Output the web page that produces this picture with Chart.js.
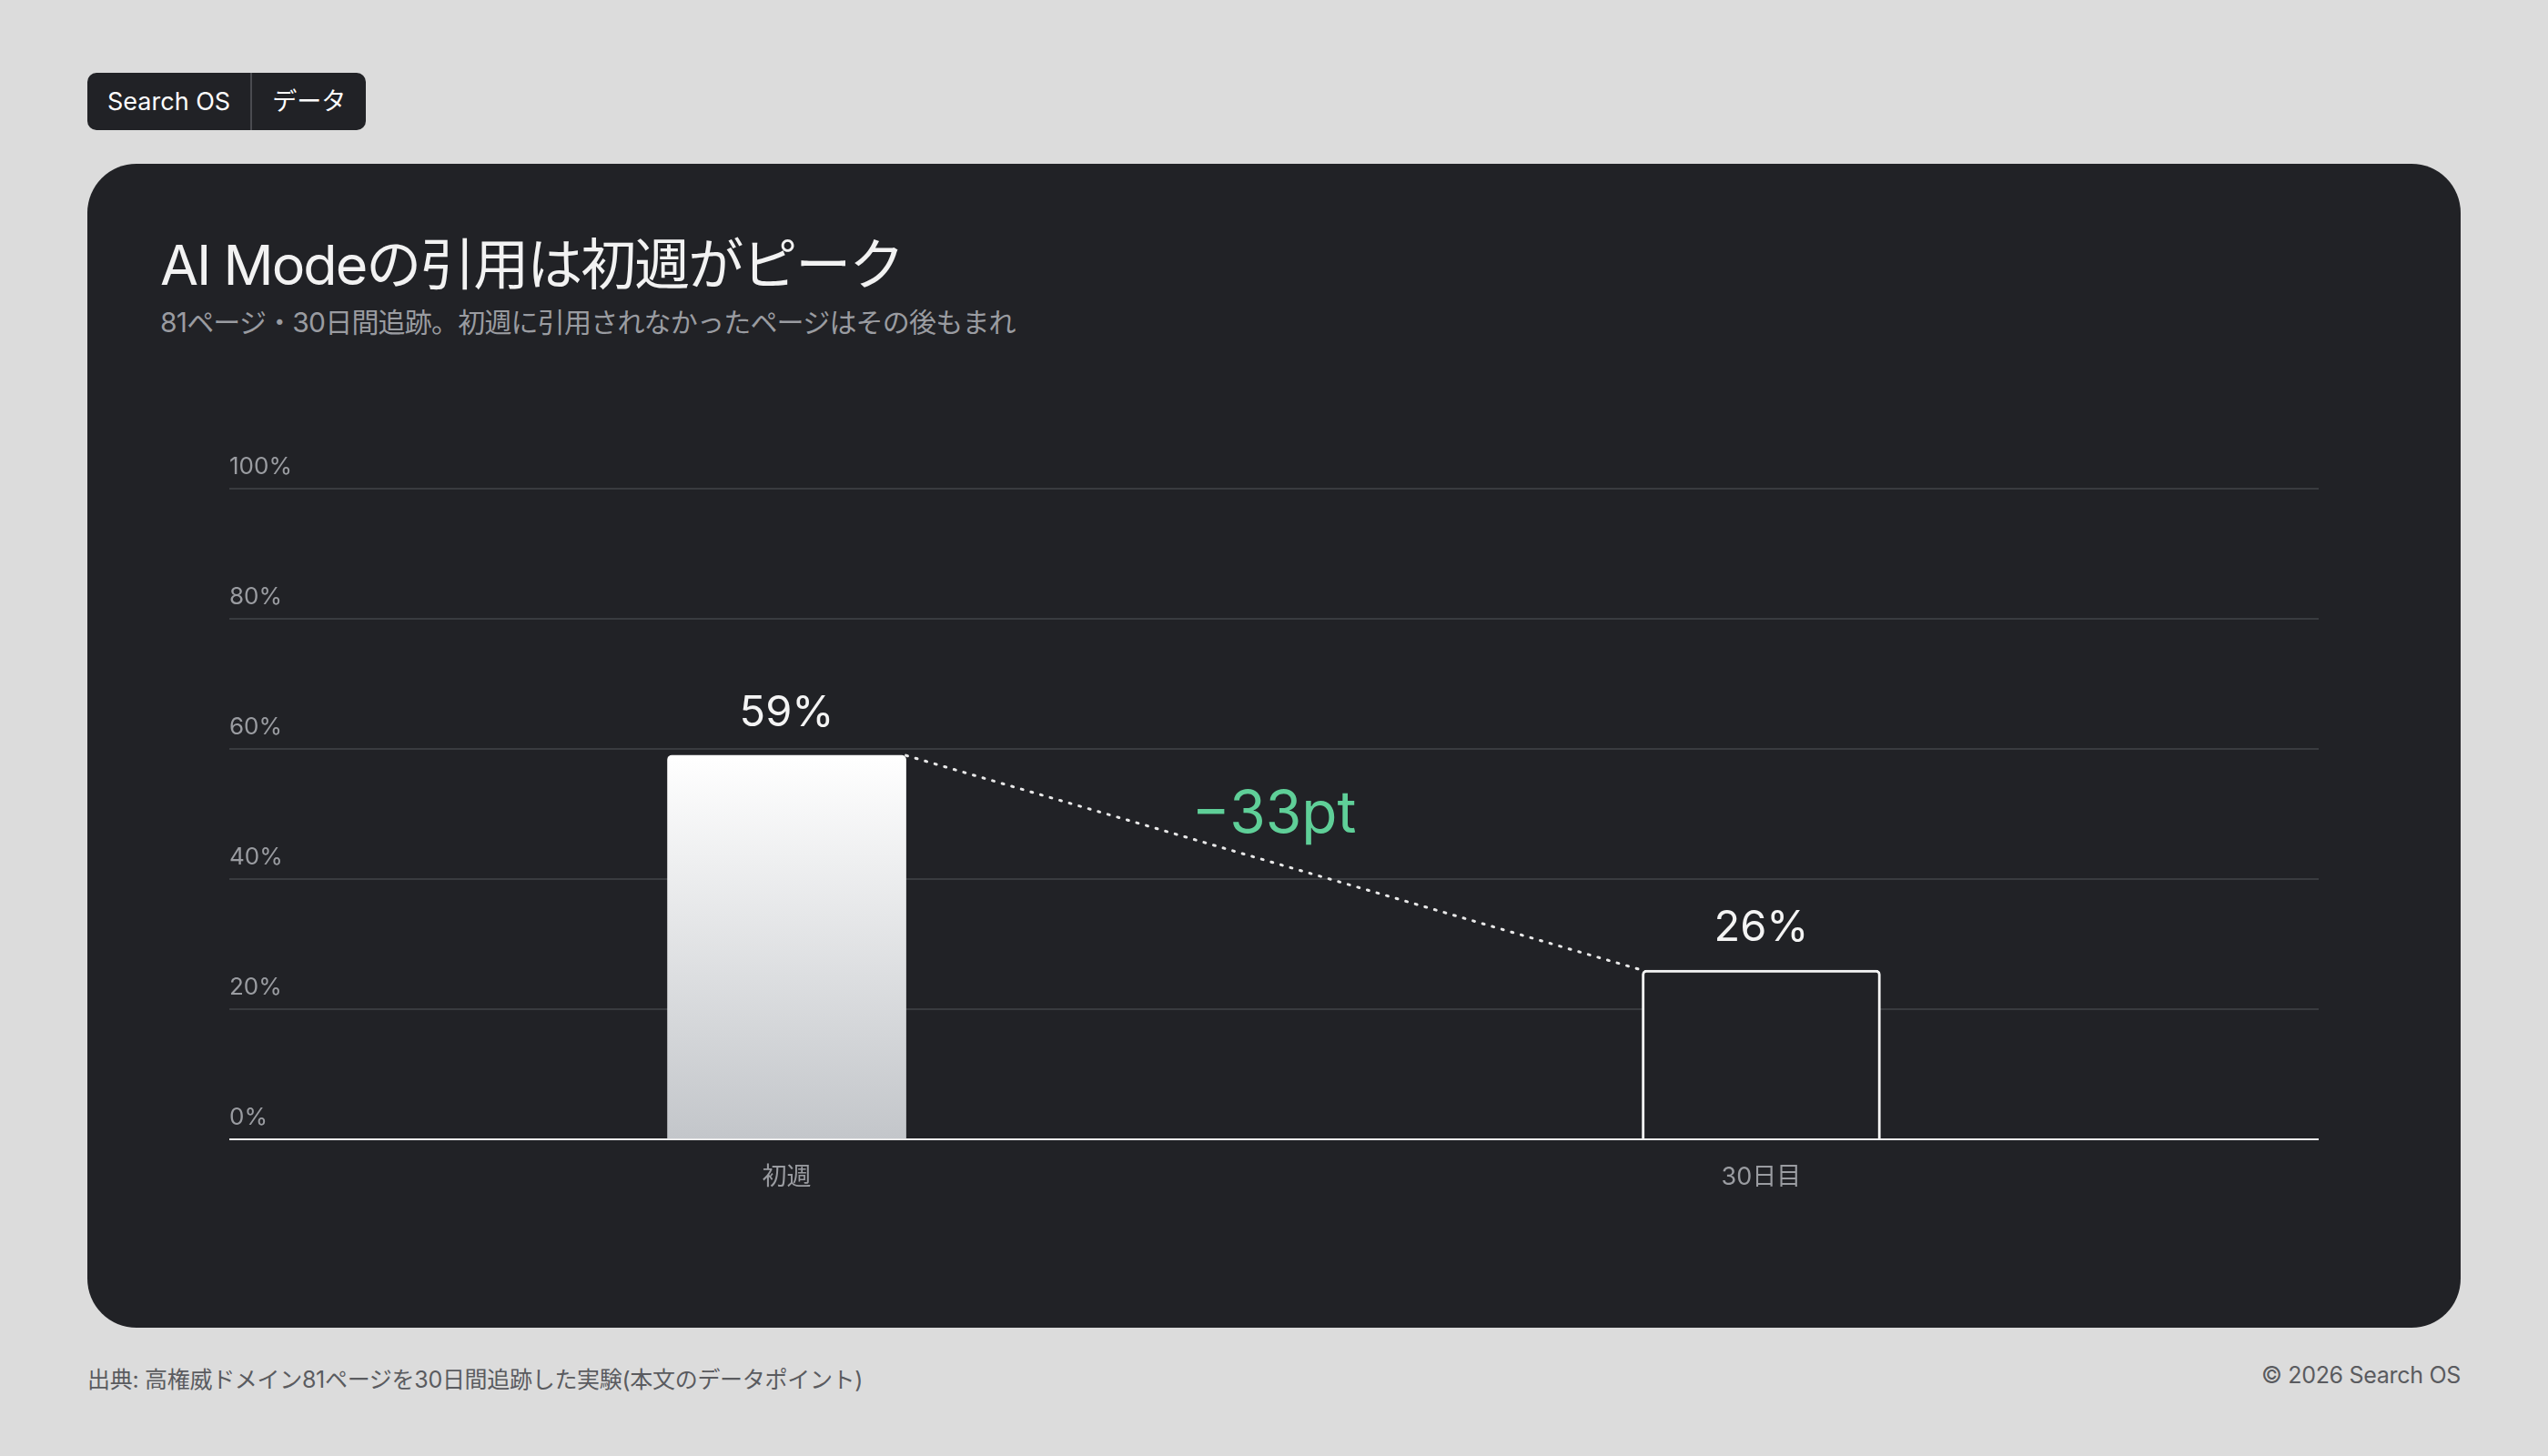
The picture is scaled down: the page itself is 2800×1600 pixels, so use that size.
<!DOCTYPE html>
<html><head><meta charset="utf-8">
<script src="https://cdn.jsdelivr.net/npm/chart.js@4/dist/chart.umd.min.js"></script>
<style>
html,body{margin:0;padding:0;width:2800px;height:1600px;background:#dcdcdc;font-family:Inter,"Noto Sans CJK JP",sans-serif;overflow:hidden}
.badge{position:absolute;left:96px;top:80px;height:63px;display:flex;background:#212226;border-radius:10px;color:#fff;font-size:27px;align-items:center}
.badge span{padding:0 22px;line-height:63px}
.badge span+span{border-left:2px solid #4a4b50}
.card{position:absolute;left:96px;top:180px;width:2608px;height:1279px;background:#212226;border-radius:54px}
.title{position:absolute;left:176px;top:242px;color:#f2f2f2;font-size:61px;letter-spacing:-2px}
.sub{position:absolute;left:176px;top:330px;color:#9a9ca1;font-size:30px;letter-spacing:-0.8px}
#wrap{position:absolute;left:252px;top:497px;width:2296px;height:833px}
.foot{position:absolute;top:1496px;font-size:25px;color:#5a5b5f;letter-spacing:-0.3px}
</style></head><body>
<div class="badge"><span>Search OS</span><span>データ</span></div>
<div class="card"></div>
<div class="title">AI Modeの引用は初週がピーク</div>
<div class="sub">81ページ・30日間追跡。初週に引用されなかったページはその後もまれ</div>
<div id="wrap"><canvas id="c"></canvas></div>
<div class="foot" style="left:96px">出典: 高権威ドメイン81ページを30日間追跡した実験(本文のデータポイント)</div>
<div class="foot" style="right:96px">© 2026 Search OS</div>
<script>
const categories=['初週','30日目'];
const values=[59,26];
const valueLabels=['59%','26%'];
const deltaLabel='−33pt';
const yTicks=[0,20,40,60,80,100];

const F='Inter, "Noto Sans CJK JP", sans-serif';
const ctx=document.getElementById('c').getContext('2d');
const overlay={id:'overlay',afterDatasetsDraw(chart){
  const c=chart.ctx,m=chart.getDatasetMeta(0).data;
  c.save();
  c.fillStyle='#f4f4f4';c.font='47px '+F;c.textAlign='center';c.textBaseline='middle';
  m.forEach((b,i)=>c.fillText(valueLabels[i],b.x,b.y-46));
  const w0=m[0].width/2,w1=m[1].width/2;
  c.strokeStyle='#e8e8e8';c.lineWidth=3;c.setLineDash([2,9]);c.lineCap='round';
  c.beginPath();c.moveTo(m[0].x+w0,m[0].y);c.lineTo(m[1].x-w1,m[1].y);c.stroke();
  c.setLineDash([]);
  c.fillStyle='#5fcf98';c.font='64px '+F;
  c.fillText(deltaLabel,(m[0].x+m[1].x)/2,chart.scales.y.getPixelForValue(49.8));
  c.restore();
}};
new Chart(ctx,{type:'bar',
 data:{datasets:[{data:values.map((v,i)=>({x:i,y:v})),
   backgroundColor:(c)=>{if(c.dataIndex===1)return '#212226';const a=c.chart.chartArea;if(!a)return '#fff';
     const g=c.chart.ctx.createLinearGradient(0,c.chart.scales.y.getPixelForValue(values[0]),0,a.bottom);g.addColorStop(0,'#ffffff');g.addColorStop(1,'#c3c6ca');return g;},
   borderColor:['rgba(0,0,0,0)','#f4f4f4'],borderWidth:[0,3],borderRadius:5,borderSkipped:'bottom',barThickness:262}]},
 options:{responsive:true,maintainAspectRatio:false,animation:false,devicePixelRatio:1,
  layout:{padding:{top:40,left:0,right:0,bottom:0}},
  plugins:{legend:{display:false},tooltip:{enabled:false}},
  scales:{
   x:{type:'linear',offset:false,min:-0.572,max:1.572,afterFit(s){s.height=78;},
     afterBuildTicks(s){s.ticks=categories.map((_,i)=>({value:i}));},
     ticks:{callback:(v)=>categories[v]??'',color:'#9a9ca1',font:{size:27,family:F},padding:18,maxRotation:0,autoSkip:false},
     grid:{display:false},border:{color:'#f0f0f0',width:2}},
   y:{min:0,max:100,afterFit(s){s.width=0;},
     afterBuildTicks(s){s.ticks=yTicks.map(v=>({value:v}));},
     ticks:{mirror:true,padding:0,labelOffset:-24,callback:v=>v+'%',color:'#9a9ca1',font:{size:26,family:F}},
     grid:{color:'#393b3f',lineWidth:2,drawTicks:false},border:{display:false}}
  }},
 plugins:[overlay]});
</script></body></html>
